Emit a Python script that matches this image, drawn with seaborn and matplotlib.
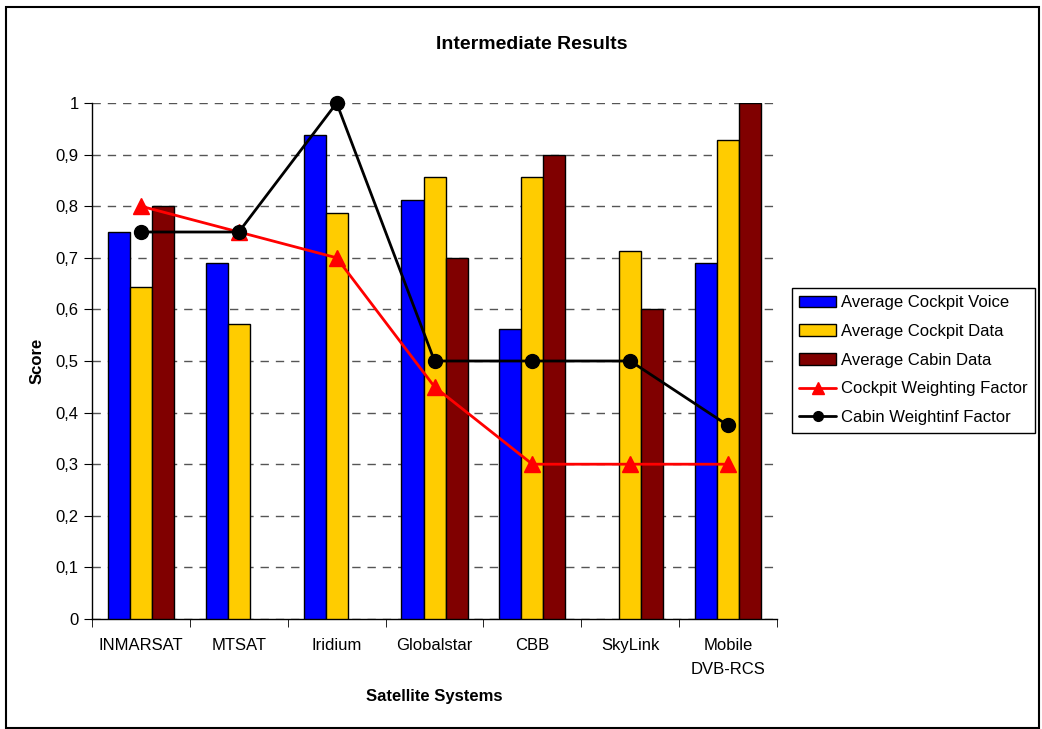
import matplotlib
matplotlib.use("Agg")
import matplotlib.pyplot as plt
from matplotlib.patches import Rectangle, Patch
from matplotlib.lines import Line2D
import numpy as np
import pandas as pd
import seaborn as sns

systems = ["INMARSAT", "MTSAT", "Iridium", "Globalstar", "CBB", "SkyLink", "Mobile\nDVB-RCS"]
cockpit_voice = [0.75, 0.69, 0.9375, 0.8125, 0.5625, np.nan, 0.69]
cockpit_data = [0.643, 0.572, 0.786, 0.857, 0.857, 0.714, 0.929]
cabin_data = [0.80, np.nan, np.nan, 0.70, 0.90, 0.60, 1.0]
cockpit_weight = [0.8, 0.75, 0.7, 0.45, 0.3, 0.3, 0.3]
cabin_weight = [0.75, 0.75, 1.0, 0.5, 0.5, 0.5, 0.375]

series = ["Average Cockpit Voice", "Average Cockpit Data", "Average Cabin Data"]
colors = ["#0000FF", "#FFCC00", "#800000"]

bars = pd.DataFrame({
    "system": systems * 3,
    "series": np.repeat(series, len(systems)),
    "score": cockpit_voice + cockpit_data + cabin_data,
})
lines = pd.DataFrame({"system": systems, "cockpit": cockpit_weight, "cabin": cabin_weight})

sns.set_style("white")
plt.rcParams["font.family"] = ["Liberation Sans", "DejaVu Sans"]
plt.rcParams["text.color"] = "black"
plt.rcParams["axes.labelcolor"] = "black"
plt.rcParams["xtick.color"] = "black"
plt.rcParams["ytick.color"] = "black"

fig = plt.figure(figsize=(10.42, 7.29), dpi=100)
ax = fig.add_axes([0.0883, 0.1509, 0.6574, 0.7078])

sns.barplot(bars, x="system", y="score", hue="series", hue_order=series,
            order=systems, palette=colors, saturation=1, width=0.675,
            edgecolor="black", linewidth=1, ax=ax, legend=False, zorder=3)

ax.plot(range(len(systems)), lines.cockpit, color="red", lw=2, marker="^",
        ms=12, zorder=5, clip_on=False)
ax.plot(range(len(systems)), lines.cabin, color="black", lw=2, marker="o",
        ms=10, zorder=6, clip_on=False)

ax.set_xlim(-0.5, len(systems) - 0.5)
ax.set_ylim(0, 1)
ax.set_yticks(np.arange(0, 1.01, 0.1))
ax.set_yticklabels(["0"] + [f"{v:.1f}".replace(".", ",") for v in np.arange(0.1, 0.95, 0.1)] + ["1"])
ax.yaxis.grid(True, color="#555555", linestyle=(0, (6, 5)), linewidth=1)
ax.set_axisbelow(True)
for s in ["top", "right"]:
    ax.spines[s].set_visible(False)
for s in ["left", "bottom"]:
    ax.spines[s].set_color("black")
    ax.spines[s].set_linewidth(1)

ax.set_xticks(np.arange(-0.5, len(systems), 1), minor=True)
ax.tick_params(axis="x", which="major", length=0, labelsize=12, pad=14)
ax.tick_params(axis="x", which="minor", length=6, color="black", direction="out", bottom=True)
ax.tick_params(axis="y", length=6, color="black", direction="out", left=True, labelsize=12)
for t in ax.get_xticklabels():
    t.set_linespacing(1.7)

ax.set_xlabel("Satellite Systems", fontsize=12, fontweight="bold", labelpad=9)
ax.set_ylabel("Score", fontsize=12, fontweight="bold", labelpad=8)
fig.suptitle("Intermediate Results", x=0.51, y=0.95, fontsize=14, fontweight="bold")

handles = [Patch(facecolor=c, edgecolor="black") for c in colors]
handles += [Line2D([], [], color="red", lw=2, marker="^", ms=9),
            Line2D([], [], color="black", lw=2, marker="o", ms=7)]
labels = series + ["Cockpit Weighting Factor", "Cabin Weightinf Factor"]
fig.legend(handles, labels, loc="upper left", bbox_to_anchor=(0.76, 0.605),
           fontsize=12, frameon=True, fancybox=False, edgecolor="black",
           framealpha=1, labelspacing=0.82, handlelength=2.2, handletextpad=0.3,
           borderpad=0.45, borderaxespad=0)

fig.patches.append(Rectangle((0.006, 0.002), 0.991, 0.989, transform=fig.transFigure,
                             fill=False, edgecolor="black", lw=1.5))

fig.savefig("out.png", dpi=100)
